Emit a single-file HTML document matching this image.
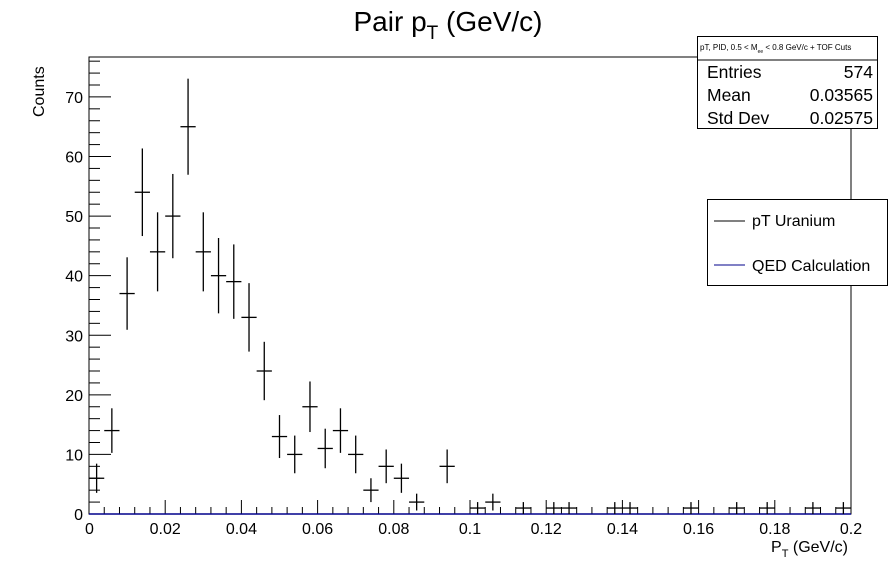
<!DOCTYPE html>
<html><head><meta charset="utf-8"><style>
html,body{margin:0;padding:0;background:#fff;}
svg{display:block;font-family:"Liberation Sans",sans-serif;}
</style></head><body>
<svg id="chart" width="896" height="572" viewBox="0 0 896 572">
<rect x="0" y="0" width="896" height="572" fill="#fff"/>
<text x="448" y="31" font-size="28" text-anchor="middle">Pair p<tspan font-size="19" dy="8">T</tspan><tspan dy="-8"> (GeV/c)</tspan></text>
<rect x="89" y="57" width="762" height="457" fill="none" stroke="#000" stroke-width="1"/>
<g id="xaxis"></g>
<g id="yaxis"></g>
<line id="qed" x1="89" y1="514" x2="851" y2="514" stroke="#00008b" stroke-width="1.5"/>
<g id="marks"></g>
<text x="848" y="552" font-size="16" text-anchor="end">P<tspan font-size="11" dy="5">T</tspan><tspan dy="-5"> (GeV/c)</tspan></text>
<text transform="translate(44,117) rotate(-90)" font-size="16" text-anchor="start">Counts</text>
<g>
<rect x="697.5" y="36.5" width="180" height="92" fill="#fff" stroke="#000"/>
<line x1="697.5" y1="60" x2="877.5" y2="60" stroke="#000"/>
<text x="700" y="50" font-size="8">pT, PID, 0.5 &lt; M<tspan font-size="5" dy="3">ee</tspan><tspan dy="-3"> &lt; 0.8 GeV/c + TOF Cuts</tspan></text>
<text x="707" y="78" font-size="17.5">Entries</text><text x="873" y="78" font-size="17.5" text-anchor="end">574</text>
<text x="707" y="101" font-size="17.5">Mean</text><text x="873" y="101" font-size="17.5" text-anchor="end">0.03565</text>
<text x="707" y="124" font-size="17.5">Std Dev</text><text x="873" y="124" font-size="17.5" text-anchor="end">0.02575</text>
</g>
<g>
<rect x="707.5" y="199.5" width="180" height="86" fill="#fff" stroke="#000"/>
<line x1="714" y1="221" x2="745" y2="221" stroke="#000"/>
<text x="752" y="226" font-size="16">pT Uranium</text>
<line x1="714" y1="265" x2="745" y2="265" stroke="#00008b"/>
<text x="752" y="271" font-size="16">QED Calculation</text>
</g>
</svg>
<script>
const binCenters = [0.002,0.006,0.010,0.014,0.018,0.022,0.026,0.030,0.034,0.038,0.042,0.046,0.050,0.054,0.058,0.062,0.066,0.070,0.074,0.078,0.082,0.086,0.094,0.102,0.106,0.114,0.122,0.126,0.138,0.142,0.158,0.170,0.178,0.190,0.198];
const binCounts  = [6,14,37,54,44,50,65,44,40,39,33,24,13,10,18,11,14,10,4,8,6,2,8,1,2,1,1,1,1,1,1,1,1,1,1];
const binWidth = 0.004;
const xTickLabels = ["0","0.02","0.04","0.06","0.08","0.1","0.12","0.14","0.16","0.18","0.2"];
const yTickLabels = ["0","10","20","30","40","50","60","70"];
const xMin=0, xMax=0.2, yMin=0, yMax=76.7;
const X0=89, X1=851, Y0=514, Y1=57;
const sx = v => X0 + (v-xMin)/(xMax-xMin)*(X1-X0);
const sy = v => Y0 - (v-yMin)/(yMax-yMin)*(Y0-Y1);
const NS="http://www.w3.org/2000/svg";
function mk(tag, attrs, parent){const e=document.createElementNS(NS,tag);for(const k in attrs)e.setAttribute(k,attrs[k]);parent.appendChild(e);return e;}
const xa=document.getElementById('xaxis'), ya=document.getElementById('yaxis'), mg=document.getElementById('marks');
for(let i=0;i<=50;i++){
  const v=xMin+i*(xMax-xMin)/50, major=i%5===0;
  const t=mk('line',{x1:sx(v),x2:sx(v),y1:Y0,y2:Y0-(major?14:7),stroke:'#000'},xa);
  
  
}
xTickLabels.forEach((lab,i)=>{
  const v=parseFloat(lab);
  const t=mk('text',{x:sx(v),y:Y0+20,'font-size':16,'text-anchor':i===0?'start':'middle'},xa);
  if(i===0)t.setAttribute('x',sx(v)-4);
  t.textContent=lab;
  
  
});
for(let v=0;v<=yMax;v+=2){
  const major=v%10===0;
  const t=mk('line',{x1:X0,x2:X0+(major?22:11),y1:sy(v),y2:sy(v),stroke:'#000'},ya);
  
  
}
yTickLabels.forEach(lab=>{
  const v=parseFloat(lab);
  const t=mk('text',{x:X0-6,y:sy(v)+6,'font-size':16,'text-anchor':'end'},ya);
  t.textContent=lab;
  
  
});
binCenters.forEach((c,i)=>{
  const n=binCounts[i], e=Math.sqrt(n);
  const g=mk('g',{},mg);
  
  
  mk('line',{x1:sx(c-binWidth/2),x2:sx(c+binWidth/2),y1:sy(n),y2:sy(n),stroke:'#000','stroke-width':1.3},g);
  mk('line',{x1:sx(c),x2:sx(c),y1:sy(n+e),y2:Math.min(sy(n-e),Y0),stroke:'#000','stroke-width':1.3},g);
});
</script>
</body></html>
